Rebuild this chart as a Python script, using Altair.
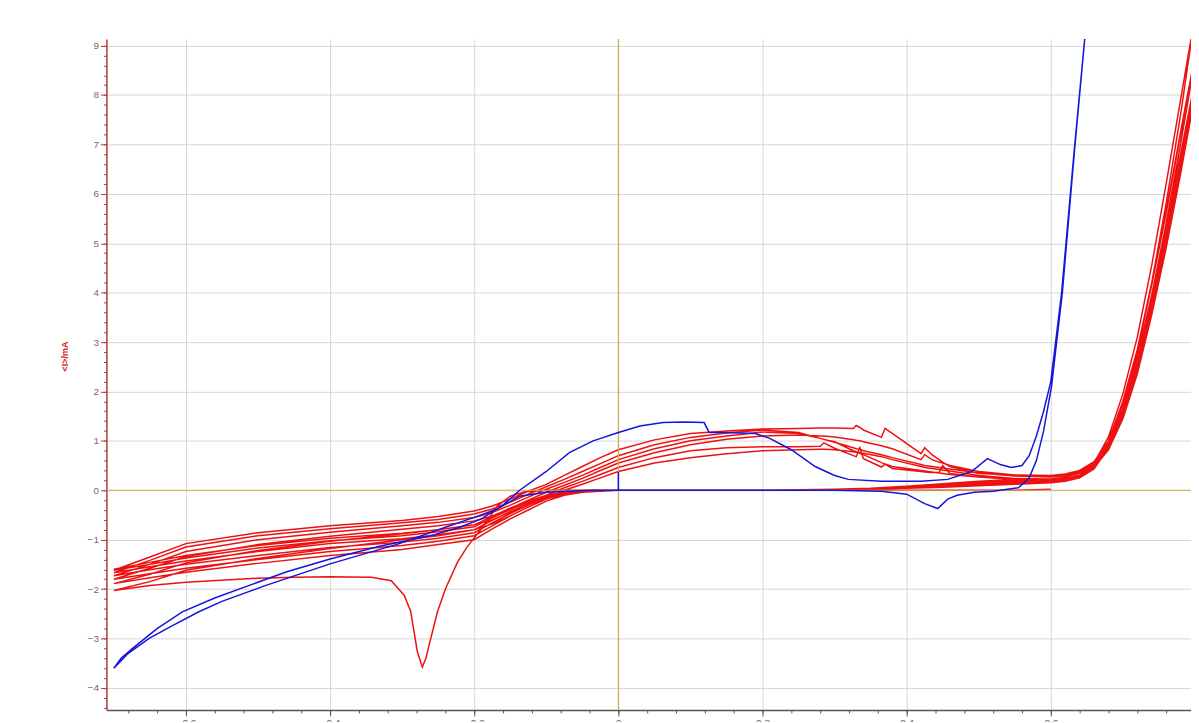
import altair as alt
import pandas as pd

# ---------------- data ----------------
# potential grid for the positive-going (anodic) red scans, V
VA = [-0.70, -0.65, -0.60, -0.50, -0.40, -0.30, -0.25, -0.20, -0.175, -0.15,
      -0.125, -0.10, -0.075, -0.05, -0.025, 0.00, 0.05, 0.10, 0.15, 0.20,
      0.25, 0.28, 0.285, 0.30, 0.326, 0.33, 0.335, 0.34, 0.365, 0.37,
      0.38, 0.42, 0.425, 0.435, 0.445, 0.45, 0.46, 0.50, 0.55, 0.60,
      0.62, 0.64, 0.66, 0.68, 0.70, 0.72, 0.74, 0.76, 0.78, 0.80]

# current of each anodic red scan, mA
A1 = [-2.03, -1.85, -1.62, -1.38, -1.18, -1.00, -0.92, -0.80, -0.68, -0.52,
      -0.34, -0.16, 0.00, 0.12, 0.25, 0.38, 0.55, 0.66, 0.74, 0.80,
      0.82, 0.83, 0.83, 0.82, 0.78, 0.77, 0.76, 0.75, 0.68, 0.66,
      0.62, 0.48, 0.46, 0.44, 0.42, 0.41, 0.39, 0.30, 0.24, 0.21,
      0.24, 0.31, 0.47, 0.84, 1.50, 2.40, 3.60, 5.00, 6.50, 8.20]
A2 = [-1.89, -1.70, -1.47, -1.22, -1.03, -0.88, -0.80, -0.70, -0.60, -0.44,
      -0.27, -0.10, 0.05, 0.18, 0.32, 0.46, 0.66, 0.80, 0.86, 0.88,
      0.88, 0.89, 0.96, 0.85, 0.70, 0.68, 0.86, 0.64, 0.47, 0.53,
      0.44, 0.38, 0.37, 0.36, 0.36, 0.50, 0.34, 0.27, 0.22, 0.20,
      0.23, 0.30, 0.46, 0.82, 1.45, 2.35, 3.55, 4.90, 6.40, 8.00]
A3 = [-1.80, -1.58, -1.34, -1.10, -0.93, -0.79, -0.72, -0.62, -0.52, -0.37,
      -0.20, -0.04, 0.10, 0.24, 0.40, 0.55, 0.76, 0.92, 1.03, 1.10,
      1.12, 1.10, 1.10, 1.08, 1.02, 1.01, 1.00, 0.98, 0.90, 0.88,
      0.84, 0.62, 0.72, 0.62, 0.57, 0.55, 0.50, 0.38, 0.31, 0.28,
      0.30, 0.37, 0.52, 0.88, 1.55, 2.50, 3.70, 5.10, 6.60, 8.30]
A4 = [-1.73, -1.50, -1.24, -1.00, -0.85, -0.72, -0.65, -0.55, -0.45, -0.30,
      -0.14, 0.02, 0.16, 0.30, 0.46, 0.62, 0.84, 1.00, 1.10, 1.18,
      1.15, 1.05, 1.03, 0.97, 0.86, 0.84, 0.83, 0.80, 0.72, 0.70,
      0.66, 0.52, 0.50, 0.48, 0.46, 0.45, 0.43, 0.35, 0.29, 0.27,
      0.30, 0.38, 0.55, 0.95, 1.70, 2.70, 3.95, 5.40, 7.00, 8.70]
A5 = [-1.67, -1.42, -1.15, -0.92, -0.78, -0.66, -0.59, -0.48, -0.38, -0.24,
      -0.08, 0.07, 0.22, 0.38, 0.54, 0.70, 0.92, 1.07, 1.16, 1.22,
      1.17, 1.05, 1.03, 0.98, 0.80, 0.78, 0.75, 0.72, 0.56, 0.53,
      0.48, 0.40, 0.39, 0.37, 0.35, 0.34, 0.32, 0.27, 0.24, 0.23,
      0.27, 0.35, 0.52, 0.92, 1.65, 2.65, 3.90, 5.35, 7.00, 8.80]
A6 = [-1.62, -1.35, -1.08, -0.86, -0.72, -0.61, -0.53, -0.42, -0.32, -0.18,
      -0.02, 0.12, 0.30, 0.48, 0.66, 0.82, 1.02, 1.15, 1.20, 1.24,
      1.25, 1.26, 1.26, 1.26, 1.25, 1.31, 1.27, 1.22, 1.07, 1.25,
      1.15, 0.74, 0.86, 0.72, 0.62, 0.57, 0.48, 0.34, 0.31, 0.30,
      0.33, 0.40, 0.58, 1.00, 1.80, 2.85, 4.20, 5.80, 7.60, 9.60]

# potential grid for the negative-going (cathodic) red scans, V
VC = [0.80, 0.78, 0.76, 0.74, 0.72, 0.70, 0.68, 0.66, 0.64, 0.62, 0.60,
      0.55, 0.50, 0.45, 0.40, 0.35, 0.30, 0.20, 0.10, 0.00,
      -0.05, -0.075, -0.10, -0.125, -0.15, -0.175, -0.20, -0.25, -0.30,
      -0.40, -0.50, -0.60, -0.65, -0.70]

C1 = [8.20, 6.70, 5.20, 3.80, 2.55, 1.60, 0.90, 0.45, 0.25, 0.18, 0.15,
      0.12, 0.09, 0.06, 0.04, 0.02, 0.01, 0.0, 0.0, 0.0,
      -0.04, -0.10, -0.22, -0.40, -0.58, -0.78, -1.00, -1.10, -1.20,
      -1.32, -1.48, -1.66, -1.77, -1.89]
C2 = [8.00, 6.55, 5.05, 3.70, 2.50, 1.55, 0.86, 0.43, 0.25, 0.19, 0.16,
      0.14, 0.10, 0.07, 0.04, 0.02, 0.01, 0.0, 0.0, 0.0,
      -0.03, -0.08, -0.18, -0.34, -0.52, -0.72, -0.92, -1.03, -1.12,
      -1.24, -1.40, -1.58, -1.69, -1.80]
C3 = [8.30, 6.80, 5.30, 3.90, 2.65, 1.65, 0.92, 0.47, 0.27, 0.20, 0.18,
      0.16, 0.12, 0.08, 0.05, 0.03, 0.01, 0.0, 0.0, 0.0,
      -0.03, -0.07, -0.15, -0.30, -0.47, -0.66, -0.86, -0.97, -1.05,
      -1.16, -1.32, -1.50, -1.61, -1.73]
C4 = [8.70, 7.20, 5.60, 4.15, 2.85, 1.80, 1.00, 0.50, 0.28, 0.21, 0.19,
      0.18, 0.14, 0.10, 0.06, 0.03, 0.01, 0.0, 0.0, 0.0,
      -0.02, -0.06, -0.13, -0.27, -0.43, -0.61, -0.80, -0.90, -0.98,
      -1.08, -1.24, -1.43, -1.55, -1.67]
C5 = [8.80, 7.25, 5.65, 4.15, 2.80, 1.75, 0.97, 0.49, 0.28, 0.22, 0.21,
      0.20, 0.16, 0.12, 0.07, 0.04, 0.02, 0.0, 0.0, 0.0,
      -0.02, -0.05, -0.11, -0.24, -0.39, -0.56, -0.74, -0.84, -0.92,
      -1.02, -1.17, -1.37, -1.50, -1.62]
C6 = [9.60, 7.90, 6.20, 4.55, 3.10, 1.95, 1.08, 0.55, 0.30, 0.24, 0.23,
      0.22, 0.18, 0.13, 0.08, 0.04, 0.02, 0.0, 0.0, 0.0,
      -0.02, -0.04, -0.10, -0.22, -0.36, -0.53, -0.70, -0.80, -0.87,
      -0.97, -1.12, -1.32, -1.46, -1.60]

# first red scan with the reduction peak
V0 = [0.60, 0.55, 0.30, 0.00, -0.10, -0.13, -0.15, -0.168, -0.19, -0.21,
      -0.223, -0.24, -0.251, -0.262, -0.267, -0.272, -0.279, -0.288, -0.297,
      -0.315, -0.343, -0.40, -0.45, -0.50, -0.60, -0.65, -0.70]
I0 = [0.02, 0.0, 0.0, 0.0, 0.0, -0.03, -0.12, -0.32, -0.78, -1.15,
      -1.45, -2.00, -2.46, -3.10, -3.40, -3.58, -3.26, -2.46, -2.13,
      -1.83, -1.76, -1.75, -1.76, -1.78, -1.86, -1.93, -2.03]

# blue cycle
VB = [0.0, 0.0, -0.04, -0.10, -0.137, -0.168, -0.20, -0.24, -0.306, -0.40,
      -0.49, -0.55, -0.582, -0.62, -0.651, -0.68, -0.70,
      -0.69, -0.674, -0.64, -0.605, -0.56, -0.513, -0.46, -0.40, -0.33,
      -0.26, -0.22, -0.19, -0.16, -0.137, -0.10, -0.068, -0.035, 0.0,
      0.03, 0.062, 0.09, 0.119, 0.126, 0.15, 0.19, 0.21, 0.24, 0.273,
      0.30, 0.319, 0.365, 0.42, 0.457, 0.49, 0.512, 0.53, 0.545, 0.56,
      0.57, 0.58, 0.59, 0.60, 0.615, 0.632, 0.65,
      0.633, 0.616, 0.601, 0.59, 0.58, 0.57, 0.555, 0.52, 0.494, 0.47,
      0.457, 0.443, 0.425, 0.40, 0.365, 0.30, 0.0]
IB = [0.37, 0.0, 0.0, -0.04, -0.12, -0.38, -0.55, -0.75, -1.09, -1.49,
      -1.93, -2.25, -2.46, -2.75, -3.00, -3.30, -3.60,
      -3.40, -3.20, -2.80, -2.46, -2.18, -1.93, -1.65, -1.39, -1.13,
      -0.92, -0.75, -0.58, -0.30, 0.00, 0.38, 0.76, 1.00, 1.17,
      1.30, 1.37, 1.38, 1.37, 1.17, 1.17, 1.15, 1.05, 0.82, 0.48,
      0.30, 0.22, 0.18, 0.18, 0.22, 0.38, 0.64, 0.52, 0.46, 0.50,
      0.70, 1.10, 1.60, 2.20, 4.00, 6.80, 9.60,
      6.90, 4.00, 2.10, 1.20, 0.60, 0.25, 0.05, -0.02, -0.04, -0.10,
      -0.18, -0.37, -0.27, -0.08, -0.02, 0.0, 0.0]

X_TICKS = [-0.6, -0.4, -0.2, 0.0, 0.2, 0.4, 0.6, 0.8]
Y_TICKS = [-4, -3, -2, -1, 0, 1, 2, 3, 4, 5, 6, 7, 8, 9]

# ---------------- build tables ----------------
red_v, red_i = list(V0), list(I0)
for a, c in [(A1, C1), (A2, C2), (A3, C3), (A4, C4), (A5, C5), (A6, C6)]:
    red_v += VA + VC
    red_i += a + c
red = pd.DataFrame({"V": red_v, "I": red_i, "k": range(len(red_v))})
blue = pd.DataFrame({"V": VB, "I": IB, "k": range(len(VB))})

XD = [-0.7103, 0.7945]
YD = [-4.447, 9.135]
xs = alt.Scale(domain=XD, nice=False, zero=False)
ys = alt.Scale(domain=YD, nice=False, zero=False)

x_minor = [round(-0.68 + 0.04 * i, 2) for i in range(38)]
y_minor = [round(-4.4 + 0.2 * i, 1) for i in range(68)]

FONT = "Liberation Sans"

x_axis = alt.Axis(values=X_TICKS, orient="bottom", title=None, grid=True,
                  gridColor="#d6d6d6", gridWidth=1, domainColor="#555555",
                  domainWidth=1.5, tickColor="#555555", tickSize=6,
                  labelFontSize=10, labelColor="#666666", labelFont=FONT,
                  labelExpr="datum.value == 0 ? '0' : format(datum.value, '.1f')")
y_axis = alt.Axis(values=Y_TICKS, orient="left", title="<I>/mA", grid=True,
                  gridColor="#d6d6d6", gridWidth=1, domainColor="#b03a3a",
                  domainWidth=1.5, tickColor="#b03a3a", tickSize=6,
                  labelFontSize=10, labelColor="#8a6060", labelFont=FONT,
                  labelPadding=2,
                  titleColor="#d42020", titleFont=FONT, titleFontSize=9,
                  titleFontWeight="bold", titleAngle=-90, titleX=-42, titleY=319,
                  titleAlign="center", titleBaseline="middle")

red_layer = alt.Chart(red).mark_line(color="#ee1111", strokeWidth=1.5, clip=True).encode(
    x=alt.X("V:Q", scale=xs, axis=x_axis),
    y=alt.Y("I:Q", scale=ys, axis=y_axis),
    order="k:Q",
)
blue_layer = alt.Chart(blue).mark_line(color="#1515dd", strokeWidth=1.5, clip=True).encode(
    x=alt.X("V:Q", scale=xs, axis=None),
    y=alt.Y("I:Q", scale=ys, axis=None),
    order="k:Q",
)
zero_h = alt.Chart(pd.DataFrame({"I": [0.0]})).mark_rule(color="#d6aa50", strokeWidth=1.2).encode(
    y=alt.Y("I:Q", scale=ys, axis=None),
)
zero_v = alt.Chart(pd.DataFrame({"V": [0.0]})).mark_rule(color="#d6aa50", strokeWidth=1.2).encode(
    x=alt.X("V:Q", scale=xs, axis=None),
)
minor_layer = alt.Chart(pd.DataFrame({"V": [0.0], "I": [0.0]})).mark_point(opacity=0).encode(
    x=alt.X("V:Q", scale=xs, axis=alt.Axis(values=x_minor, orient="bottom", labels=False,
                                           grid=False, domain=False, tickSize=3,
                                           tickColor="#555555", title=None)),
    y=alt.Y("I:Q", scale=ys, axis=alt.Axis(values=y_minor, orient="left", labels=False,
                                           grid=False, domain=False, tickSize=3,
                                           tickColor="#b03a3a", title=None)),
)

chart = alt.layer(red_layer, minor_layer, zero_h, zero_v, blue_layer).resolve_axis(
    x="independent", y="independent"
).properties(
    width=1091, height=675,
    autosize=alt.AutoSizeParams(type="none"),
    padding={"left": 99, "top": 29, "right": 0, "bottom": 10},
    background="white",
).configure_view(stroke=None)

chart.save("out.html", embed_options={"renderer": "svg", "actions": False})
